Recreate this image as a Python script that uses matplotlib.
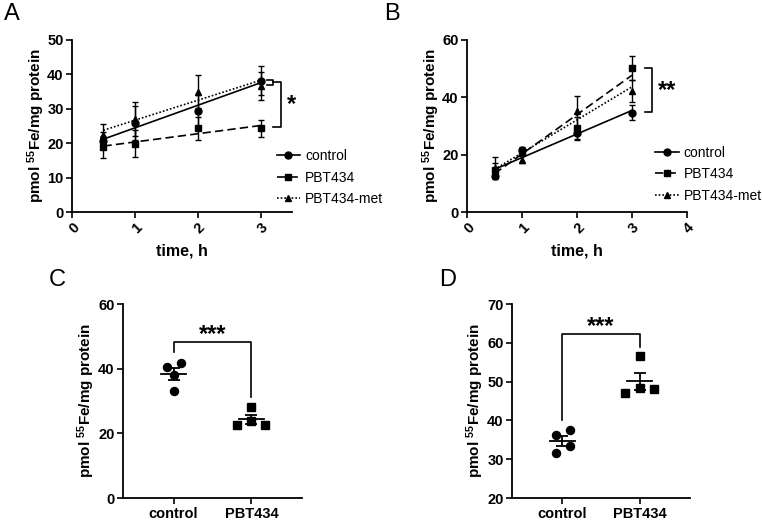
import numpy as np
import matplotlib
matplotlib.use("Agg")
import matplotlib.pyplot as plt
from matplotlib.lines import Line2D

plt.rcParams['font.family'] = ['Liberation Sans', 'DejaVu Sans']
plt.rcParams['mathtext.fontset'] = 'custom'
plt.rcParams['mathtext.rm'] = 'Liberation Sans:bold'
plt.rcParams['mathtext.bf'] = 'Liberation Sans:bold'
plt.rcParams['mathtext.default'] = 'rm'

# ---- données panneau A ----
temps = [0.5, 1, 2, 3]
a_control = [20.7, 25.8, 29.5, 38.2]
a_control_err = [2.5, 5.0, 4.5, 4.2]
a_pbt = [18.9, 19.9, 24.3, 24.3]
a_pbt_err = [3.2, 4.0, 3.4, 2.4]
a_met = [22.5, 27.0, 35.0, 36.7]
a_met_err = [3.0, 5.0, 4.8, 4.1]

# ---- données panneau B ----
b_control = [12.5, 21.8, 27.5, 34.7]
b_control_err = [1.0, 1.0, 2.5, 2.7]
b_pbt = [14.6, 21.0, 29.4, 50.3]
b_pbt_err = [2.5, 1.0, 3.8, 4.2]
b_met = [15.5, 18.3, 35.2, 42.3]
b_met_err = [3.8, 1.2, 5.4, 3.8]

# ---- données panneaux C et D (points individuels) ----
groupes = ['control', 'PBT434']
c_control = [40.4, 41.8, 38.0, 33.1]
c_pbt = [28.2, 22.7, 23.8, 22.7]
d_control = [36.2, 37.6, 33.3, 31.6]
d_pbt = [56.7, 47.1, 48.4, 48.2]
jitter_control = [-0.086, 0.10, 0.0, 0.0]
jitter_pbt = [0.0, -0.19, 0.0, 0.18]
jitter_control_d = [-0.086, 0.094, 0.094, -0.086]
jitter_pbt_d = [0.0, -0.19, 0.0, 0.18]

ylabel = r'pmol $^{55}$Fe/mg protein'
W, H = 762, 521
fig = plt.figure(figsize=(W / 100, H / 100), dpi=100)


def px_axes(l, r, t, b):
    return fig.add_axes([l / W, (H - b) / H, (r - l) / W, (b - t) / H])


def style(ax):
    for s in ['top', 'right']:
        ax.spines[s].set_visible(False)
    for s in ['left', 'bottom']:
        ax.spines[s].set_linewidth(1.3)
    ax.tick_params(direction='out', length=4, width=1.2, labelsize=10.5, pad=2)
    for lab in ax.get_xticklabels() + ax.get_yticklabels():
        lab.set_fontweight('bold')


series_style = [('o', '-', 'control'), ('s', (0, (5, 2.5)), 'PBT434'), ('^', (0, (1, 1.2)), 'PBT434-met')]


def panel_courbe(ax, donnees, xmax, ymax, ystep):
    for (y, err), (m, ls, lab) in zip(donnees, series_style):
        ax.errorbar(temps, y, yerr=err, fmt=m, color='k', ms=5, elinewidth=1,
                    capsize=2, capthick=1, zorder=3)
        coef = np.polyfit(temps, y, 1)
        xx = np.array([temps[0], temps[-1]])
        ax.plot(xx, np.polyval(coef, xx), color='k', ls=ls, lw=1.2)
    ax.set_xlim(0, xmax)
    ax.set_ylim(0, ymax)
    ax.set_xticks(range(0, int(xmax) + 1))
    ax.set_yticks(np.arange(0, ymax + 1, ystep))
    style(ax)
    for lab in ax.get_xticklabels():
        lab.set_rotation(45)
        lab.set_ha('right')
        lab.set_va('top')
        lab.set_rotation_mode('anchor')
    ax.set_xlabel('time, h', fontsize=11.5, fontweight='bold', labelpad=5)
    ax.set_ylabel(ylabel, fontsize=11, fontweight='bold', labelpad=0)


def legende(ax, x, y):
    handles = [Line2D([], [], color='k', ls=ls, marker=m, ms=5, lw=1.2)
               for m, ls, lab in series_style]
    ax.legend(handles, [s[2] for s in series_style], loc='center left',
              bbox_to_anchor=(x, y), frameon=False, fontsize=10, handlelength=1.7,
              handletextpad=0.35, labelspacing=0.55, borderpad=0, borderaxespad=0)


# ---- A ----
axA = px_axes(72, 292, 40, 212)
panel_courbe(axA, [(a_control, a_control_err), (a_pbt, a_pbt_err), (a_met, a_met_err)], 3.5, 50, 10)
legende(axA, 0.93, 0.2)
kw = dict(color='k', lw=1.2, clip_on=False)
axA.plot([3.1, 3.2, 3.2, 3.1], [38.4, 38.4, 36.9, 36.9], **kw)
axA.plot([3.2, 3.32, 3.32, 3.2], [37.7, 37.7, 24.8, 24.8], **kw)
axA.text(3.49, 31.2, '*', fontsize=17, fontweight='bold', ha='center', va='center')

# ---- B ----
axB = px_axes(467, 687, 40, 212)
panel_courbe(axB, [(b_control, b_control_err), (b_pbt, b_pbt_err), (b_met, b_met_err)], 4, 60, 20)
legende(axB, 0.855, 0.22)
axB.plot([3.24, 3.36, 3.36, 3.24], [50.3, 50.3, 35.0, 35.0], **kw)
axB.text(3.63, 42.3, '**', fontsize=17, fontweight='bold', ha='center', va='center')


def panel_points(ax, ctrl, pbt, jc, jp, ylim, ystep, bracket, star_y):
    for i, (vals, jit, m) in enumerate([(ctrl, jc, 'o'), (pbt, jp, 's')]):
        xs = i + np.array(jit)
        ax.plot(xs, vals, m, color='k', ms=5.8, ls='none', zorder=3)
        moy = np.mean(vals)
        sem = np.std(vals, ddof=1) / np.sqrt(len(vals))
        ax.plot([i - 0.16, i + 0.16], [moy, moy], color='k', lw=1.3)
        ax.errorbar([i], [moy], yerr=[sem], fmt='none', ecolor='k', elinewidth=1.3,
                    capsize=4.5, capthick=1.3)
    top, left, right = bracket
    ax.plot([0, 0, 1, 1], [left, top, top, right], color='k', lw=1.2)
    ax.text(0.5, star_y, '***', fontsize=17, fontweight='bold', ha='center', va='center')
    ax.set_xlim(-0.65, 1.65)
    ax.set_ylim(*ylim)
    ax.set_xticks([0, 1])
    ax.set_xticklabels(groupes)
    ax.set_yticks(np.arange(ylim[0], ylim[1] + 1, ystep))
    style(ax)
    ax.tick_params(axis='x', pad=2.5)
    ax.set_ylabel(ylabel, fontsize=11, fontweight='bold', labelpad=1)


axC = px_axes(123, 302, 304, 498)
panel_points(axC, c_control, c_pbt, jitter_control, jitter_pbt, (0, 60), 20, (48.3, 45.3, 31.3), 50.6)

axD = px_axes(512, 690, 304, 498)
panel_points(axD, d_control, d_pbt, jitter_control_d, jitter_pbt_d, (20, 70), 10, (62.3, 40.0, 58.8), 64.2)

for lettre, x, y in [('A', 4, 3), ('B', 384, 3), ('C', 49, 269), ('D', 439, 269)]:
    fig.text(x / W, 1 - y / H, lettre, fontsize=17, ha='left', va='top')

fig.savefig('out.png', dpi=100)
